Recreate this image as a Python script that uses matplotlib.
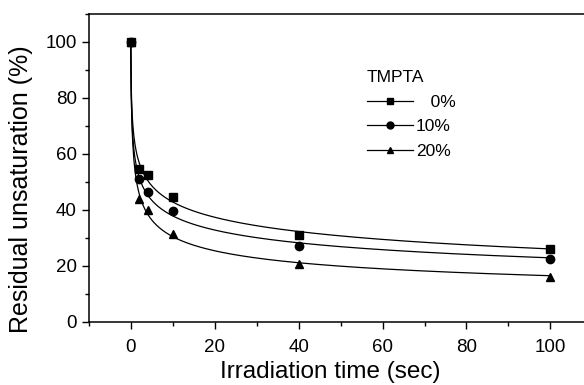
import numpy as np
import matplotlib.pyplot as plt
from matplotlib.ticker import MultipleLocator

plt.rcParams['font.family'] = ['Liberation Sans', 'DejaVu Sans']

# Irradiation time (sec) and residual unsaturation (%) for each TMPTA content
time = np.array([0, 2, 4, 10, 40, 100])
tmpta_0 = np.array([100, 54.5, 52.5, 44.5, 31.0, 26.0])
tmpta_10 = np.array([100, 51.0, 46.5, 39.5, 27.0, 22.3])
tmpta_20 = np.array([100, 44.0, 40.0, 31.5, 20.6, 16.2])
labels = ['   0%', '10%', '20%']
markers = ['s', 'o', '^']


# Fitted curve y = a + b*(t + c)^-p, with c and p picked by a grid search
def fit_curve(t, y, t_fine):
    t = t.astype(float)
    best = None
    for c in np.linspace(0.05, 3.0, 60):
        for p in np.linspace(0.05, 2.0, 40):
            A = np.column_stack([np.ones_like(t), (t + c) ** -p])
            coef, *_ = np.linalg.lstsq(A, y, rcond=None)
            err = np.sum((A @ coef - y) ** 2)
            if best is None or err < best[0]:
                best = (err, c, p, coef)
    _, c, p, coef = best
    return coef[0] + coef[1] * (t_fine + c) ** -p


fig = plt.figure(figsize=(5.84, 3.85), dpi=100)
ax = fig.add_axes([0.152, 0.164, 0.848, 0.8])

t_fine = np.linspace(0, 100, 800)
handles = []
for y, lab, m in zip([tmpta_0, tmpta_10, tmpta_20], labels, markers):
    ax.plot(t_fine, fit_curve(time, y, t_fine), color='black', lw=0.9)
    ax.plot(time, y, linestyle='none', marker=m, color='black', ms=6)
    h, = ax.plot([], [], color='black', lw=0.9, marker=m, ms=5, label=lab)
    handles.append(h)

ax.set_xlim(-10, 108)
ax.set_ylim(0, 110)
ax.xaxis.set_major_locator(MultipleLocator(20))
ax.xaxis.set_minor_locator(MultipleLocator(10))
ax.yaxis.set_major_locator(MultipleLocator(20))
ax.yaxis.set_minor_locator(MultipleLocator(10))
ax.tick_params(which='major', direction='out', length=5, width=1, labelsize=13.5)
ax.tick_params(which='minor', direction='out', length=3, width=1)
ax.tick_params(axis='x', which='major', pad=7)
ax.spines['right'].set_visible(False)
for s in ['left', 'bottom', 'top']:
    ax.spines[s].set_linewidth(1.1)

ax.set_xlabel('Irradiation time (sec)', fontsize=17.5, labelpad=4)
ax.set_ylabel('Residual unsaturation (%)', fontsize=18)
ax.xaxis.label.set_x(0.487)
ax.yaxis.set_label_coords(-0.112, 0.43)

leg = ax.legend(handles=handles, title='TMPTA', loc='upper left',
                bbox_to_anchor=(0.547, 0.84), frameon=False, fontsize=12.5,
                title_fontsize=12.5, handlelength=2.65, labelspacing=0.55,
                handletextpad=0.2, borderaxespad=0)
leg._legend_box.align = 'left'

fig.savefig('out.png', dpi=100)
